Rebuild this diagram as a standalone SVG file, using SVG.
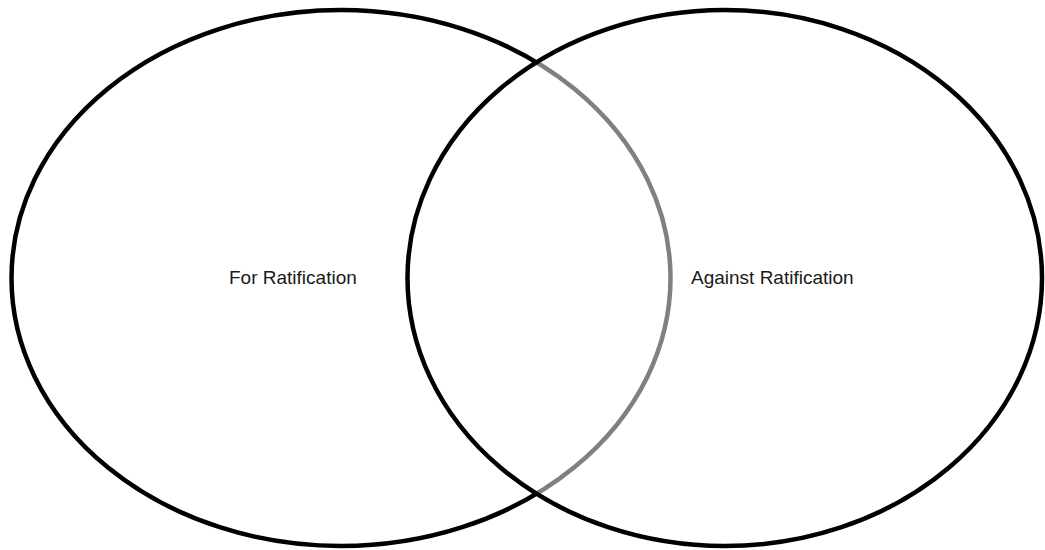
<svg xmlns="http://www.w3.org/2000/svg" width="1045" height="550" viewBox="0 0 1045 550">
<style>
.c{stroke:#000;stroke-width:4.5}
.t{font-family:"Liberation Sans",Arial,sans-serif;font-size:19px;fill:#1a1a1a}
</style>
<rect width="1045" height="550" fill="#fff"/>
<g id="for">
<ellipse class="c" cx="341" cy="278" rx="329.5" ry="268" fill="#fff"/>
<text class="t" x="229" y="284">For Ratification</text>
</g>
<g id="against">
<ellipse class="c" cx="724.75" cy="278" rx="317.25" ry="268" fill="#fff" fill-opacity="0.5"/>
<text class="t" x="691" y="284">Against Ratification</text>
</g>
<g id="connectors"></g>
</svg>
